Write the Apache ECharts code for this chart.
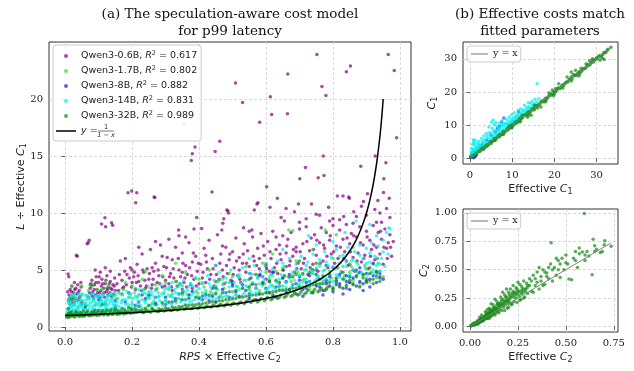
<!DOCTYPE html>
<html><head><meta charset="utf-8">
<script src="https://cdn.jsdelivr.net/npm/echarts@6/dist/echarts.min.js"></script>
<style>html,body{margin:0;padding:0;background:#fff}#c{width:634px;height:371px}</style>
</head><body><div id="c"></div>
<script>
const models = ['Qwen3-0.6B','Qwen3-1.7B','Qwen3-8B','Qwen3-14B','Qwen3-32B'];
const r2Values = ['0.617','0.802','0.882','0.831','0.989'];
const modelColors = ['#800080','#22e622','#2020ee','#00f0f0','#138a13'];

const xTicksA = [0,0.2,0.4,0.6,0.8,1.0];
const yTicksA = [0,5,10,15,20];
const ticksB1 = [0,10,20,30];
const ticksB2x = [0,0.25,0.5,0.75];
const ticksB2y = [0,0.25,0.5,0.75,1.0];

// curve y = 1/(1-x), values typed
const curveX = [0,0.1,0.2,0.3,0.4,0.5,0.55,0.6,0.65,0.7,0.75,0.77,0.8,0.83,0.85,0.86,0.87,0.88,0.89,0.9,0.91,0.92,0.93,0.94,0.945,0.95];
const curveY = [1,1.111,1.25,1.429,1.667,2,2.222,2.5,2.857,3.333,4,4.348,5,5.882,6.667,7.143,7.692,8.333,9.091,10,11.111,12.5,14.286,16.667,18.182,20];

// Panel (a) points
const a06B = [[0.01,2.3],[0.012,2.8],[0.015,3.3],[0.018,2.6],[0.02,3.6],[0.022,2.2],[0.025,3.0],[0.028,3.9],[0.03,2.5],[0.032,3.4],[0.035,2.9],[0.038,3.7],[0.04,2.4],[0.042,3.2],[0.045,2.7],[0.048,3.5],[0.05,2.2],[0.008,3.1],[0.015,2.0],[0.027,2.1],[0.009,4.65],[0.011,4.4],[0.034,6.3],[0.036,6.2],[0.069,7.4],[0.072,7.6],[0.066,7.3],
[0.07,2.6],[0.075,3.4],[0.078,2.9],[0.08,4.1],[0.083,3.1],[0.085,2.5],[0.088,3.7],[0.09,2.8],[0.093,4.4],[0.095,3.3],[0.098,2.7],[0.1,3.9],[0.103,3.0],[0.105,2.6],[0.108,3.6],[0.11,4.2],[0.113,2.9],[0.115,3.4],[0.118,2.6],[0.12,3.8],[0.123,3.1],[0.125,4.5],[0.128,2.8],[0.13,3.5],[0.133,3.0],[0.135,4.0],[0.138,2.7],[0.14,3.3],[0.143,3.7],[0.145,2.9],[0.148,4.3],[0.15,3.2],[0.09,5.0],[0.105,4.8],[0.12,5.2],[0.135,4.9],
[0.109,9.03],[0.119,9.59],[0.121,8.8],[0.139,9.15],[0.142,8.92],[0.188,11.78],[0.199,11.93],[0.214,11.78],[0.211,10.9],[0.266,11.4],[0.268,11.35],
[0.16,3.2],[0.165,5.8],[0.17,4.1],[0.175,3.5],[0.18,6.0],[0.185,4.6],[0.19,3.0],[0.195,5.2],[0.2,3.9],[0.205,4.4],[0.21,3.3],[0.215,5.5],[0.22,4.0],[0.225,3.6],[0.23,6.4],[0.235,4.8],[0.24,3.4],[0.245,5.1],[0.25,4.2],[0.255,6.8],[0.26,3.7],[0.265,4.9],[0.27,5.6],[0.275,3.9],[0.28,4.5],[0.285,7.2],[0.29,3.5],[0.295,5.3],[0.3,4.1],[0.305,6.1],[0.31,3.8],[0.315,4.7],[0.32,5.9],[0.325,4.3],[0.33,7.0],[0.335,3.6],[0.34,5.0],[0.345,4.4],[0.35,6.5],[0.355,3.9],[0.36,5.4],[0.365,4.6],[0.37,7.4],[0.375,3.7],[0.38,5.7],[0.385,4.2],[0.39,6.2],[0.395,4.9],[0.4,3.8],
[0.17,2.9],[0.2,5.0],[0.23,2.8],[0.26,5.2],[0.29,6.2],[0.32,3.2],[0.35,4.8],[0.38,3.4],[0.22,7.0],[0.27,7.5],[0.31,7.7],[0.34,8.0],[0.36,7.9],[0.385,8.6],[0.408,8.65],[0.339,8.5],
[0.405,5.5],[0.41,4.3],[0.415,6.9],[0.42,3.9],[0.425,5.1],[0.43,7.6],[0.435,4.6],[0.44,6.0],[0.445,3.6],[0.45,5.4],[0.455,8.1],[0.46,4.2],[0.465,6.4],[0.47,5.0],[0.475,3.8],[0.48,7.0],[0.485,4.7],[0.49,5.9],[0.495,4.1],[0.5,6.6],[0.505,5.2],[0.51,7.8],[0.515,4.5],[0.52,6.1],[0.525,3.9],[0.53,5.6],[0.535,7.3],[0.54,4.8],[0.545,6.7],[0.55,5.3],[0.555,4.3],[0.56,7.9],[0.565,5.8],[0.57,4.6],[0.575,6.9],[0.58,5.1],[0.585,8.2],[0.59,4.4],[0.595,6.3],[0.6,5.5],[0.605,7.5],[0.61,4.9],[0.615,6.0],[0.62,8.4],[0.625,5.2],[0.63,6.8],[0.635,4.7],[0.64,7.2],[0.645,5.9],[0.65,8.0],[0.655,4.5],[0.66,6.5],[0.665,7.7],[0.67,5.4],[0.675,8.3],[0.68,6.2],[0.685,4.8],[0.69,7.0],[0.695,5.6],[0.7,8.6],
[0.42,6.3],[0.47,7.1],[0.52,5.0],[0.55,8.4],[0.58,6.0],[0.63,7.9],[0.66,5.3],[0.69,6.6],[0.45,4.0],[0.5,3.8],[0.6,4.2],[0.64,3.9],[0.68,4.4],
[0.705,5.1],[0.71,7.3],[0.715,6.0],[0.72,8.8],[0.725,4.6],[0.73,6.7],[0.735,7.8],[0.74,5.5],[0.745,8.1],[0.75,6.3],[0.755,4.9],[0.76,7.4],[0.765,8.7],[0.77,5.8],[0.775,6.9],[0.78,8.3],[0.785,5.2],[0.79,7.6],[0.795,6.4],[0.8,8.9],[0.805,5.6],[0.81,7.1],[0.815,6.0],[0.82,8.5],[0.825,4.8],[0.83,7.7],[0.835,6.6],[0.84,9.0],[0.845,5.4],[0.85,7.3],[0.855,8.2],[0.86,6.1],[0.865,4.9],[0.87,7.9],[0.875,6.5],[0.88,8.8],[0.885,5.7],[0.89,7.2],[0.895,6.3],[0.9,8.4],[0.905,5.1],[0.91,7.6],[0.915,6.8],[0.92,8.9],[0.925,5.9],[0.93,7.0],[0.935,8.3],[0.94,6.4],[0.945,7.7],[0.95,5.5],[0.955,8.6],[0.96,6.9],[0.965,7.4],[0.97,8.1],[0.975,6.2],[0.98,7.5],
[0.72,9.5],[0.76,9.8],[0.82,9.4],[0.87,9.7],[0.93,9.2],[0.97,9.6],
[0.393,9.6],[0.439,11.84],[0.448,15.4],[0.462,16.3],[0.468,8.5],[0.471,9.1],[0.474,9.5],[0.483,10.26],[0.486,10.2],[0.488,10.0],[0.509,21.4],[0.53,19.7],[0.533,8.7],[0.558,8.5],[0.565,10.26],[0.573,10.8],[0.576,10.9],[0.581,17.95],[0.602,12.3],[0.613,20.2],[0.617,18.65],[0.612,10.5],[0.634,11.3],[0.66,10.4],[0.664,18.7],[0.685,10.1],[0.697,10.8],[0.701,13.0],[0.718,14.0],[0.736,10.8],[0.756,13.1],[0.767,21.1],[0.773,13.3],[0.771,15.0],[0.779,20.3],[0.787,10.5],[0.8,9.5],[0.813,11.5],[0.83,11.5],[0.832,9.7],[0.847,11.4],[0.849,11.3],[0.862,10.1],[0.883,14.1],[0.891,11.0],[0.903,11.7],[0.926,15.0],[0.934,11.1],[0.952,13.0],[0.951,11.8],[0.958,14.4],[0.968,11.3],[0.96,10.4],[0.99,16.6],[0.355,17.8],[0.377,14.6],[0.38,15.2],[0.388,15.8],
[0.665,22.2],[0.752,23.9],[0.852,22.9],[0.84,22.4],[0.965,23.9],[0.983,22.5],
[0.645,9.6],[0.655,9.3],[0.7,9.2],[0.75,9.9],[0.79,9.3],[0.86,9.1],[0.9,9.8],[0.94,10.0],[0.885,10.6],[0.925,10.3],[0.945,9.2]];
const a06Bmore = [[0.155,3.8],[0.162,4.6],[0.172,3.4],[0.178,4.9],[0.183,3.7],[0.192,4.3],[0.198,3.5],[0.207,4.8],[0.213,3.9],[0.218,4.5],[0.228,3.2],[0.232,5.0],[0.238,4.1],[0.243,3.6],[0.252,4.7],[0.258,3.4],[0.263,4.2],[0.272,3.3],[0.278,5.0],[0.283,3.8],[0.292,4.4],[0.298,3.6],[0.303,5.2],[0.312,4.4],[0.318,3.5],[0.323,5.1],[0.332,4.0],[0.338,6.0],[0.343,3.8],[0.352,5.6],[0.358,4.3],[0.363,3.5],[0.372,5.2],[0.378,4.5],[0.383,6.5],[0.392,3.6],[0.398,5.6],[0.412,4.8],[0.422,5.7],[0.432,4.2],[0.442,5.1],[0.452,4.6],[0.462,5.6],[0.472,4.4],[0.482,5.4],[0.492,6.4],[0.502,4.6],[0.512,5.8],[0.522,4.2],[0.532,6.4],[0.542,5.6],[0.552,4.7],[0.562,6.2],[0.572,5.4],[0.582,4.6],[0.592,7.1],[0.602,5.1],[0.612,6.6],[0.622,4.8],[0.632,5.6],[0.642,6.4],[0.652,5.0],[0.662,7.1],[0.672,5.8],[0.682,6.8],[0.692,5.1],[0.702,6.6],[0.712,5.6],[0.722,7.5],[0.732,5.2],[0.742,6.8],[0.752,7.6],[0.762,5.6],[0.772,7.2],[0.782,6.2],[0.792,8.0],[0.802,6.6],[0.812,5.2],[0.822,7.0],[0.832,6.0],[0.842,7.8],[0.852,6.6],[0.862,8.0],[0.872,5.8],[0.882,7.4],[0.892,6.0],[0.902,7.9],[0.912,6.2],[0.922,7.2],[0.932,6.0],[0.942,8.4],[0.952,7.0],[0.962,6.0],[0.972,7.0],
[0.013,2.5],[0.019,3.1],[0.023,2.6],[0.029,3.3],[0.033,2.3],[0.039,3.0],[0.043,2.6],[0.047,3.9],[0.073,3.0],[0.077,3.8],[0.082,2.7],[0.087,3.3],[0.092,3.9],[0.097,3.0],[0.102,4.4],[0.107,3.2],[0.112,3.8],[0.117,3.0],[0.122,4.1],[0.127,3.3],[0.132,3.8],[0.137,3.4],[0.147,3.6]];

const a17B = [[0.01,1.6],[0.015,2.2],[0.02,3.5],[0.025,1.9],[0.03,2.6],[0.04,1.8],[0.05,2.9],[0.06,2.1],[0.07,3.2],[0.08,3.8],[0.085,2.4],[0.09,1.9],[0.1,2.7],[0.11,3.3],[0.12,2.2],[0.13,3.6],[0.14,2.5],[0.15,1.9],[0.16,3.0],[0.17,2.3],[0.18,3.9],[0.19,2.6],[0.2,2.0],[0.21,3.4],[0.22,2.8],[0.23,4.2],[0.24,2.4],[0.25,3.1],[0.26,2.1],[0.27,3.7],[0.28,2.7],[0.29,4.5],[0.3,2.3],[0.31,3.3],[0.32,2.9],[0.33,4.0],[0.34,2.5],[0.35,3.6],[0.36,4.8],[0.37,2.8],[0.38,3.2],[0.39,4.3],[0.4,2.6],[0.41,3.8],[0.42,3.0],[0.43,5.0],[0.44,2.8],[0.45,3.5],[0.46,4.1],[0.47,2.6],[0.48,3.9],[0.49,4.7],[0.5,3.1],[0.51,2.8],[0.52,4.4],[0.53,3.4],[0.54,5.3],[0.55,2.9],[0.56,3.8],[0.57,4.6],[0.58,3.2],[0.59,5.6],[0.6,3.0],[0.61,4.2],[0.62,3.6],[0.63,4.9],[0.64,3.3],[0.65,5.2],[0.66,3.9],[0.67,3.1],[0.68,4.5],[0.69,5.8],[0.7,3.5],[0.71,4.1],[0.72,5.0],[0.73,3.3],[0.74,4.7],[0.75,3.8],[0.76,5.5],[0.77,4.0],[0.78,3.4],[0.79,4.9],[0.8,6.0],[0.81,3.9],[0.82,4.4],[0.83,5.3],[0.84,3.7],[0.85,4.8],[0.86,4.1],[0.87,5.7],[0.88,3.6],[0.89,4.6],[0.9,5.1],[0.91,4.0],[0.92,5.5],[0.93,4.3],[0.94,4.9],[0.95,4.4],
[0.668,8.5],[0.68,8.45],[0.777,8.5],[0.81,8.1],[0.33,5.6],[0.24,4.9],[0.62,6.4],[0.74,6.8],[0.86,7.0],[0.12,4.0],[0.02,2.8],[0.05,3.6],
[0.15,2.8],[0.25,2.6],[0.35,2.9],[0.45,3.0],[0.55,3.3],[0.65,3.6],[0.75,4.2],[0.85,3.9],[0.2,3.6],[0.3,3.9],[0.4,4.2],[0.5,4.4],[0.6,4.8],[0.7,4.5],[0.8,3.5],[0.9,4.3]];
const a17Bmore = [[0.025,2.8],[0.045,2.3],[0.065,2.7],[0.095,3.3],[0.105,2.3],[0.135,3.0],[0.155,2.5],[0.175,3.3],[0.195,2.9],[0.215,2.6],[0.235,3.3],[0.255,2.8],[0.275,3.4],[0.295,3.0],[0.315,2.7],[0.335,3.5],[0.355,3.1],[0.375,3.8],[0.395,3.0],[0.415,3.5],[0.435,3.1],[0.455,4.0],[0.475,3.4],[0.495,3.9],[0.515,3.5],[0.535,4.1],[0.555,3.7],[0.575,4.3],[0.595,3.8],[0.615,4.6],[0.635,3.9],[0.655,4.5],[0.675,4.0],[0.695,4.8],[0.715,4.2],[0.735,5.1],[0.755,4.4],[0.775,5.0],[0.795,4.3],[0.815,5.2],[0.835,4.5],[0.855,5.3],[0.875,4.7],[0.895,5.4],[0.915,4.8],[0.935,5.6]];

const a8B = [[0.03,1.4],[0.06,1.7],[0.09,1.5],[0.12,2.0],[0.15,1.7],[0.18,2.2],[0.21,1.9],[0.24,2.5],[0.27,2.1],[0.3,2.6],[0.32,2.2],[0.34,2.9],[0.36,2.4],[0.38,3.1],[0.4,2.5],[0.42,2.8],[0.44,3.4],[0.46,2.6],[0.48,3.0],[0.5,3.6],[0.52,2.7],[0.54,3.2],[0.56,3.8],[0.58,2.9],[0.6,3.4],[0.61,4.0],[0.62,2.8],[0.64,3.6],[0.65,4.3],[0.66,3.1],[0.68,3.7],[0.69,2.9],[0.7,4.1],[0.71,3.3],[0.72,3.9],[0.73,4.5],[0.74,3.0],[0.75,3.6],[0.76,4.2],[0.77,3.2],[0.78,3.8],[0.79,4.4],[0.8,3.1],[0.81,3.7],[0.82,4.6],[0.83,3.4],[0.84,4.0],[0.85,3.3],[0.86,4.3],[0.87,3.6],[0.88,4.8],[0.89,3.8],[0.9,4.1],[0.91,3.5],[0.92,4.5],[0.93,3.9],[0.94,4.7],[0.95,4.2],
[0.45,2.2],[0.55,2.5],[0.63,2.6],[0.67,4.6],[0.71,2.7],[0.74,5.0],[0.77,2.8],[0.8,5.2],[0.83,2.9],[0.86,5.0],[0.89,3.2],[0.92,5.6],[0.35,3.3],[0.25,2.8],[0.5,4.0],[0.58,4.5],[0.62,4.8],[0.78,5.4],[0.84,5.8],[0.88,5.2],[0.2,1.6],[0.1,2.4],[0.43,2.3],[0.57,2.4]];
const a8Bmore = [[0.3,2.0],[0.33,2.5],[0.37,2.8],[0.41,2.4],[0.44,2.7],[0.47,3.3],[0.49,2.6],[0.51,3.1],[0.53,3.7],[0.55,2.9],[0.57,3.4],[0.59,3.9],[0.61,3.0],[0.63,3.5],[0.66,4.0],[0.67,3.3],[0.69,3.8],[0.7,4.4],[0.72,3.4],[0.73,4.0],[0.75,4.6],[0.76,3.5],[0.78,4.1],[0.79,3.6],[0.81,4.3],[0.82,3.8],[0.84,4.5],[0.85,3.9],[0.87,4.4],[0.88,4.0],[0.9,4.7],[0.91,4.2],[0.93,4.8],[0.94,4.3],[0.15,2.3],[0.22,2.2],[0.27,2.6],[0.05,2.0]];

const a14B = [[0.005,1.1],[0.008,1.6],[0.01,2.1],[0.012,1.3],[0.015,2.6],[0.018,1.8],[0.02,1.2],[0.022,2.3],[0.025,1.5],[0.028,2.9],[0.03,1.9],[0.032,1.1],[0.035,2.4],[0.038,1.6],[0.04,2.1],[0.042,1.3],[0.045,2.7],[0.048,1.8],[0.05,1.2],[0.053,2.3],[0.056,1.5],[0.06,2.0],[0.063,2.8],[0.066,1.4],[0.07,1.9],[0.073,2.5],[0.076,1.3],[0.08,2.2],[0.083,1.6],[0.086,2.9],[0.09,1.4],[0.093,2.0],[0.096,2.6],[0.1,1.5],[0.103,2.2],[0.106,1.8],[0.11,2.7],[0.113,1.4],[0.116,2.1],[0.12,1.7],[0.123,2.5],[0.126,1.5],[0.13,2.0],[0.133,2.8],[0.136,1.6],[0.14,2.3],[0.143,1.9],[0.146,2.6],[0.15,1.6],[0.155,2.2],[0.16,1.8],[0.165,2.9],[0.17,1.7],[0.175,2.4],[0.18,2.0],[0.185,3.1],[0.19,1.8],[0.195,2.6],[0.2,2.2],[0.02,1.7],[0.04,1.5],[0.06,1.7],[0.08,1.8],[0.1,1.9],[0.12,2.0],[0.14,1.6],[0.03,2.2],[0.07,2.4],[0.11,2.3],[0.05,2.0],[0.09,2.2],[0.13,2.4],
[0.205,1.7],[0.21,2.7],[0.215,2.0],[0.22,3.3],[0.225,1.9],[0.23,2.4],[0.235,3.0],[0.24,2.1],[0.245,2.6],[0.25,3.5],[0.255,1.9],[0.26,2.8],[0.265,2.3],[0.27,3.2],[0.275,2.0],[0.28,2.6],[0.285,3.7],[0.29,2.2],[0.295,2.9],[0.3,2.4],[0.305,3.4],[0.31,2.1],[0.315,2.7],[0.32,3.9],[0.325,2.3],[0.33,3.0],[0.335,2.5],[0.34,3.6],[0.345,2.2],[0.35,2.8],[0.355,4.1],[0.36,2.4],[0.365,3.2],[0.37,2.6],[0.375,3.8],[0.38,2.3],[0.385,3.0],[0.39,4.3],[0.395,2.7],[0.4,3.4],[0.405,2.4],[0.41,3.9],[0.415,2.8],[0.42,3.2],[0.425,4.5],[0.43,2.6],[0.435,3.5],[0.44,2.9],[0.445,4.1],[0.45,2.5],[0.455,3.3],[0.46,4.8],[0.465,2.8],[0.47,3.7],[0.475,3.0],[0.48,4.3],[0.485,2.7],[0.49,3.5],[0.495,5.0],[0.5,3.1],[0.505,3.9],[0.51,2.8],[0.515,4.5],[0.52,3.3],[0.525,3.8],[0.53,5.2],[0.535,3.0],[0.54,4.1],[0.545,3.5],[0.55,4.7],[0.555,3.1],[0.56,3.9],[0.565,5.4],[0.57,3.4],[0.575,4.3],[0.58,3.0],[0.585,4.9],[0.59,3.6],[0.595,4.1],[0.6,5.6],
[0.605,3.2],[0.61,4.4],[0.615,3.7],[0.62,5.1],[0.625,3.4],[0.63,4.0],[0.635,5.8],[0.64,3.6],[0.645,4.6],[0.65,3.3],[0.655,5.3],[0.66,3.9],[0.665,4.4],[0.67,6.0],[0.675,3.5],[0.68,4.8],[0.685,4.1],[0.69,5.5],[0.695,3.7],[0.7,4.5],[0.705,6.2],[0.71,3.9],[0.715,5.0],[0.72,4.2],[0.725,5.7],[0.73,3.6],[0.735,4.7],[0.74,6.4],[0.745,4.0],[0.75,5.2],[0.755,4.5],[0.76,5.9],[0.765,3.8],[0.77,4.9],[0.775,6.6],[0.78,4.3],[0.785,5.4],[0.79,4.6],[0.795,6.1],[0.8,4.0],[0.805,5.1],[0.81,6.8],[0.815,4.4],[0.82,5.6],[0.825,4.8],[0.83,6.3],[0.835,4.2],[0.84,5.3],[0.845,7.0],[0.85,4.6],[0.855,5.8],[0.86,5.0],[0.865,6.6],[0.87,4.4],[0.875,5.5],[0.88,7.2],[0.885,4.8],[0.89,6.0],[0.895,5.2],[0.9,6.9],[0.905,4.6],[0.91,5.7],[0.915,7.4],[0.92,5.0],[0.925,6.2],[0.93,5.4],[0.935,7.1],[0.94,4.9],[0.945,6.0],[0.95,7.6],[0.955,5.3],[0.96,8.3],[0.965,6.4],
[0.869,9.3],[0.91,9.0],[0.967,8.7],[0.97,8.6],[0.836,8.3],[0.727,8.0],[0.8,7.5],[0.75,7.2],[0.93,8.0],[0.65,6.8],[0.55,6.0],[0.45,5.4]];
const a14Bmore = [[0.006,1.4],[0.009,2.4],[0.013,1.7],[0.017,2.0],[0.021,2.7],[0.024,1.4],[0.027,2.0],[0.031,2.6],[0.034,1.7],[0.037,1.2],[0.041,2.9],[0.044,1.9],[0.047,2.4],[0.051,1.6],[0.054,2.8],[0.058,1.2],[0.062,2.4],[0.065,1.9],[0.068,2.7],[0.072,1.6],[0.075,2.1],[0.078,2.9],[0.082,1.3],[0.085,2.5],[0.088,1.9],[0.092,2.7],[0.095,1.3],[0.098,2.1],[0.102,2.8],[0.105,1.5],[0.108,2.4],[0.112,1.9],[0.115,2.9],[0.118,1.5],[0.122,2.3],[0.125,1.8],[0.128,2.7],[0.132,1.5],[0.135,2.2],[0.138,2.9],[0.142,1.6],[0.145,2.1],[0.148,3.0],[0.152,1.9],[0.158,2.5],[0.162,1.5],[0.168,2.1],[0.172,2.8],[0.178,1.6],[0.182,2.4],[0.188,2.0],[0.192,2.9],[0.198,1.7],
[0.203,2.5],[0.208,3.0],[0.212,1.6],[0.218,2.3],[0.222,2.8],[0.228,1.7],[0.232,3.2],[0.238,2.3],[0.242,2.9],[0.248,1.8],[0.252,2.5],[0.258,3.1],[0.262,2.0],[0.268,2.6],[0.272,1.9],[0.278,3.0],[0.282,2.3],[0.288,2.9],[0.292,1.9],[0.298,3.3],[0.302,2.1],[0.308,2.8],[0.312,3.5],[0.318,2.0],[0.322,2.6],[0.328,3.3],[0.332,2.1],[0.338,2.9],[0.342,3.8],[0.348,2.4],[0.352,3.2],[0.358,2.0],[0.362,2.9],[0.368,3.5],[0.372,2.2],[0.378,2.8],[0.382,3.6],[0.388,2.4],[0.392,3.2],[0.398,2.1],[0.41,3.0],[0.42,2.5],[0.43,3.8],[0.44,2.4],[0.45,3.6],[0.46,2.6],[0.47,4.2],[0.48,2.7],[0.49,3.9],[0.5,2.6],[0.51,3.6],[0.52,4.6],[0.53,2.8],[0.54,3.6],[0.55,2.8],[0.56,4.6],[0.57,3.0],[0.58,3.8],[0.59,4.4],[0.6,3.3],
[0.61,3.5],[0.62,4.5],[0.63,3.2],[0.64,4.2],[0.65,5.6],[0.66,3.5],[0.67,4.3],[0.68,3.7],[0.69,5.0],[0.7,3.8],[0.71,4.6],[0.72,5.4],[0.73,4.0],[0.74,4.9],[0.75,3.9],[0.76,5.3],[0.77,4.2],[0.78,5.7],[0.79,4.1],[0.8,5.3],[0.81,4.6],[0.82,6.2],[0.83,4.3],[0.84,5.7],[0.85,4.4],[0.86,5.9],[0.87,4.9],[0.88,6.3],[0.89,4.5],[0.9,5.6],[0.91,6.5],[0.92,4.7],[0.93,6.0],[0.94,5.5],[0.95,6.6]];

const a32B = [[0.005,0.85],[0.008,1.0],[0.01,1.2],[0.012,0.9],[0.015,1.1],[0.018,1.35],[0.02,0.95],[0.025,1.15],[0.03,0.9],[0.035,1.3],[0.04,1.0],[0.045,1.2],[0.05,0.95],[0.055,1.4],[0.06,1.05],[0.065,1.25],[0.07,0.98],[0.075,1.15],[0.08,1.35],[0.085,1.05],[0.09,1.2],[0.095,1.0],[0.1,1.45],[0.105,1.1],[0.11,1.3],[0.115,1.05],[0.12,1.2],[0.125,1.5],[0.13,1.1],[0.135,1.35],[0.14,1.15],[0.145,1.25],[0.15,1.55],[0.155,1.1],[0.16,1.3],[0.165,1.2],[0.17,1.6],[0.175,1.15],[0.18,1.35],[0.185,1.25],[0.19,1.7],[0.195,1.2],[0.2,1.4],
[0.02,2.4],[0.08,3.6],[0.075,3.7],[0.125,3.4],[0.01,1.6],[0.06,1.8],[0.11,2.0],
[0.205,1.25],[0.21,1.55],[0.215,1.3],[0.22,1.8],[0.225,1.35],[0.23,1.5],[0.235,1.25],[0.24,1.65],[0.245,1.4],[0.25,1.9],[0.255,1.3],[0.26,1.55],[0.265,1.45],[0.27,2.0],[0.275,1.35],[0.28,1.6],[0.285,1.5],[0.29,2.1],[0.295,1.4],[0.3,1.7],[0.305,1.55],[0.31,2.2],[0.315,1.45],[0.32,1.75],[0.325,1.6],[0.33,2.3],[0.335,1.5],[0.34,1.8],[0.345,1.65],[0.35,2.4],[0.355,1.55],[0.36,1.9],[0.365,1.7],[0.37,2.5],[0.375,1.6],[0.38,1.95],[0.385,1.75],[0.39,2.6],[0.395,1.65],[0.4,2.0],[0.405,1.8],[0.41,2.7],[0.415,1.7],[0.42,2.1],[0.425,1.85],[0.43,2.8],[0.435,1.75],[0.44,2.2],[0.445,1.9],[0.45,2.9],[0.455,1.8],[0.46,2.3],[0.465,2.0],[0.47,3.0],[0.475,1.85],[0.48,2.4],[0.485,2.05],[0.49,3.1],[0.495,1.9],[0.5,2.45],
[0.505,2.1],[0.51,3.2],[0.515,2.0],[0.52,2.6],[0.525,2.2],[0.53,3.4],[0.535,2.05],[0.54,2.7],[0.545,2.3],[0.55,3.5],[0.555,2.15],[0.56,2.8],[0.565,2.4],[0.57,3.7],[0.575,2.2],[0.58,2.9],[0.585,2.5],[0.59,3.8],[0.595,2.3],[0.6,3.0],[0.605,2.6],[0.61,4.0],[0.615,2.4],[0.62,3.1],[0.625,2.7],[0.63,4.1],[0.635,2.5],[0.64,3.2],[0.645,2.8],[0.65,4.3],[0.655,2.6],[0.66,3.3],[0.665,2.9],[0.67,4.4],[0.675,2.7],[0.68,3.4],[0.685,3.0],[0.69,4.6],[0.695,2.8],[0.7,3.5],[0.705,3.1],[0.71,4.7],[0.715,2.9],[0.72,3.6],[0.725,3.2],[0.73,4.8],[0.735,3.0],[0.74,3.7],[0.745,3.3],[0.75,5.0],[0.755,3.1],[0.76,3.8],[0.765,3.4],[0.77,4.5],[0.775,3.2],[0.78,3.9],[0.785,3.5],[0.79,4.6],[0.8,3.3],[0.81,4.0],[0.82,3.6],[0.83,4.8],[0.84,3.4],[0.85,4.1],[0.86,3.7],[0.87,5.0],[0.88,3.5],[0.89,4.3],[0.9,3.9],[0.91,5.2],[0.92,3.8],[0.93,4.5],[0.94,4.0],
[0.35,3.0],[0.45,3.4],[0.55,4.2],[0.65,5.0],[0.75,5.6],[0.85,5.5],[0.6,5.3],[0.7,5.8]];
const a32Bmore = [[0.007,1.1],[0.011,0.85],[0.016,1.25],[0.022,1.05],[0.027,0.9],[0.032,1.2],[0.037,1.05],[0.042,0.92],[0.047,1.3],[0.052,1.1],[0.057,0.95],[0.062,1.2],[0.067,1.4],[0.072,1.1],[0.077,0.98],[0.082,1.25],[0.087,1.4],[0.092,1.1],[0.097,1.3],[0.102,1.05],[0.107,1.25],[0.112,1.45],[0.117,1.15],[0.122,1.35],[0.127,1.05],[0.132,1.25],[0.137,1.5],[0.142,1.1],[0.147,1.4],[0.152,1.25],[0.157,1.45],[0.162,1.15],[0.167,1.35],[0.172,1.25],[0.177,1.5],[0.182,1.2],[0.187,1.4],[0.192,1.3],[0.197,1.55],[0.21,1.35],[0.22,1.45],[0.23,1.3],[0.24,1.5],[0.25,1.4],[0.26,1.65],[0.27,1.45],[0.28,1.35],[0.29,1.55],[0.3,1.45],
[0.31,1.6],[0.32,1.45],[0.33,1.7],[0.34,1.55],[0.35,1.8],[0.36,1.6],[0.37,1.9],[0.38,1.65],[0.39,1.95],[0.4,1.7],[0.41,2.05],[0.42,1.75],[0.43,2.15],[0.44,1.85],[0.45,2.2],[0.46,1.9],[0.47,2.3],[0.48,1.95],[0.49,2.4],[0.5,2.05],[0.51,2.5],[0.52,2.1],[0.53,2.6],[0.54,2.2],[0.55,2.7],[0.56,2.3],[0.57,2.8],[0.58,2.35],[0.59,2.9],[0.6,2.45],[0.61,3.0],[0.62,2.5],[0.63,3.1],[0.64,2.6],[0.65,3.2],[0.66,2.7],[0.67,3.3],[0.68,2.8],[0.69,3.4],[0.7,2.9],[0.71,3.5],[0.72,3.0],[0.73,3.6],[0.74,3.1],[0.75,3.7],[0.76,3.2],[0.77,3.8],[0.78,3.3],[0.79,3.9],[0.8,3.4],[0.81,4.1],[0.82,3.5],[0.83,4.2],[0.84,3.6],[0.85,4.4],[0.86,3.8],[0.87,4.5],[0.88,3.9],[0.89,4.6],[0.9,4.0],[0.91,4.7],[0.92,4.2],[0.93,4.9],[0.94,4.4]];

// Panel (b) top: Effective C1 vs fitted C1
const b1_06B = [[0.2,0.3],[0.4,0.8],[0.5,1.5],[0.3,1.0],[0.6,0.5],[0.8,1.8],[0.2,0.6]];
const b1_17B = [[0.5,0.7],[0.9,1.5],[1.2,1.7],[1.5,2.5],[0.7,1.2],[2.0,3.5],[2.5,4.0]];
const b1_8B = [[0.5,0.4],[1.0,0.6],[1.5,1.0],[2.0,2.6],[3,4.2],[4,5.5],[5,7],[6,8],[7,9.6],[8,12.2],[7.5,11],[6.5,9],[1,1.8],[2.5,3],[0.8,0.2],[1.2,0.5],[11.5,14.0],[10.1,11.0]];
const b1_14B = [[0.3,0.8],[0.6,1.9],[0.9,2.8],[1.2,3.9],[1.5,3.0],[1.8,4.6],[2.1,5.2],[2.4,3.8],[2.7,6.0],[3.0,4.5],[3.3,6.8],[3.6,5.2],[3.9,7.5],[4.2,6.0],[4.5,9.5],[4.8,7.2],[5.1,11.0],[5.4,8.0],[5.7,10.2],[6.0,7.5],[6.3,9.8],[6.6,8.6],[6.9,10.6],[7.2,9.2],[7.5,11.3],[7.8,9.8],[8.1,12.0],[8.4,10.5],[8.7,11.8],[9.0,10.2],[9.3,12.5],[9.6,11.0],[9.9,13.2],[10.2,11.6],[10.5,13.8],[10.8,12.2],[11.1,13.0],[11.4,14.5],[11.7,12.8],[12.0,15.0],[12.3,13.4],[12.6,14.6],[12.9,16.0],[13.2,14.0],[13.5,15.4],[13.8,16.8],[14.1,15.0],[14.3,16.6],[14.7,17.2],[15.0,16.2],[15.4,17.8],[15.9,22.6],[16.3,18.0],[2.0,2.6],[3.5,4.0],[5.0,5.6],[6.5,7.1],[8.0,8.6],[1.0,1.5],[4.0,4.8],[7.0,7.8],[10.0,10.8],[2.8,3.4],[1.5,2.0],[5.5,6.4],[9.0,9.9],[11.5,12.3],[0.8,5.6],[1.0,4.6],[5.5,11.6],[6.1,10.8],
[0.5,1.2],[0.7,2.4],[1.1,2.2],[1.3,3.2],[1.6,2.4],[1.9,3.6],[2.2,4.2],[2.5,3.0],[2.9,5.0],[3.2,3.8],[3.4,5.6],[3.8,4.5],[4.1,6.6],[4.4,5.1],[4.6,7.8],[5.0,6.3],[5.3,9.0],[5.6,6.8],[5.9,8.5],[6.2,7.0],[6.5,8.2],[6.8,9.2],[7.1,8.4],[7.4,10.0],[7.7,8.6],[8.0,10.3],[8.3,9.3],[8.6,10.6],[8.9,9.6],[9.2,11.2],[9.5,10.4],[9.8,11.8],[10.1,10.9],[10.4,12.4],[10.7,11.4],[11.0,12.6],[11.3,11.9],[11.6,13.6],[11.9,12.5],[12.2,14.0],[12.5,13.0],[12.8,14.4],[13.1,13.6],[13.4,14.9],[13.7,14.3],[14.0,15.6],[14.4,15.1],[14.9,16.0],[15.3,16.5],[15.8,17.0],[0.4,3.0],[0.6,4.2],[0.9,5.0],[1.2,5.5],[0.3,2.0]];
const b1_32B = [[2,2.1],[2.5,2.3],[3,3.2],[3.5,3.3],[4,4.1],[4.5,4.3],[5,5.2],[5.5,5.3],[6,6.1],[6.5,6.4],[7,7.2],[7.5,7.3],[8,8.1],[8.5,8.3],[9,9.2],[9.5,9.4],[10,10.1],[10.5,10.3],[11,11.2],[11.5,11.4],[12,12.1],[12.5,12.3],[13,13.2],[13.5,13.4],[14,14.1],[14.5,14.3],[15,15.2],[15.5,15.4],[16,16.1],[16.5,16.3],[17,17.3],[17.5,17.4],[18,18.2],[18.5,18.4],[19,19.3],[19.5,19.4],[20,20.2],[20.5,20.4],[21,21.3],[21.5,21.3],[22,22.2],[22.5,22.6],[23,23.1],[23.5,23.8],[24,24.6],[24.5,25.3],[25,25.1],[25.5,25.6],[26,26.2],[26.5,26.3],[27,27.2],[27.5,27.4],[28,28.3],[28.5,28.4],[29,29.6],[29.5,29.5],[30,30.3],[30.5,30.8],[31,30.6],[31.5,31.4],[32,31.9],[32.5,32.6],[33.4,33.5],
[4,3.6],[6,5.5],[8,7.4],[10,9.4],[12,11.3],[14,13.4],[16,15.2],[18,17.3],[20,19.4],[22,21.2],[24,23.3],[26,25.4],[13.6,12.4],[14.5,13.0],[16.8,15.5],[15.2,14.6],[31.4,30.2],[31.8,29.8],[29,30.0],[27.5,28.5],[24,26.0],[23,24.5],[25,26.6],[18.7,19.8],[21,22.5],[19.5,20.6],
[1,0.8],[1.5,1.3],[0.5,0.4],[3,2.6],[5,4.5],[7,6.5],[9,8.6],[11,10.6],
[0.5,0.6],[1.0,1.1],[1.5,1.6],[2.2,2.0],[2.7,2.9],[3.2,3.0],[3.7,3.8],[4.2,4.0],[4.7,4.9],[5.2,5.0],[5.7,5.9],[6.2,6.0],[6.7,6.9],[7.2,7.0],[7.7,7.9],[8.2,8.0],[8.7,8.9],[9.2,9.0],[9.7,9.9],[10.2,10.0],[10.7,10.9],[11.2,11.0],[11.7,11.9],[12.2,12.0],[12.7,12.9],[13.2,13.0],[13.7,13.9],[14.2,14.0],[14.7,14.9],[15.2,15.0],[15.7,15.9],[16.2,16.0],[16.7,16.9],[17.2,17.0],[17.7,17.9],[18.2,18.0],[18.7,18.9],[19.2,19.0],[19.7,19.9],[20.2,20.0],[20.7,20.9],[21.2,21.0],[21.7,21.9],[22.2,22.0],[22.7,22.9],[23.2,23.0],[23.7,23.9],[24.2,24.0],[24.7,24.9],[25.2,25.0],[25.7,25.9],[26.2,26.0],[26.7,26.9],[27.2,27.0],[27.7,27.9],[28.2,28.0],[28.7,28.9],[29.2,29.0],[29.7,29.9],[30.2,30.0],[30.7,30.9],[31.2,31.0],[31.7,31.9],[32.2,32.0],[32.7,32.9],[3.3,2.9],[5.8,5.4],[7.8,7.2],[9.8,9.2],[11.8,11.0],[13.8,12.9],[17.8,17.0],[19.8,18.9],[25.8,24.8],[30.8,29.6],[9.3,9.8],[12.3,12.9],[15.3,16.0],[20.3,21.1],[26.3,27.2],[28.3,29.4]];

// Panel (b) bottom: Effective C2 vs fitted C2
const b2_06B = [[0.005,0.005]];
const b2_17B = [[0.01,0.012],[0.02,0.018]];
const b2_8B = [[0.04,0.025],[0.055,0.04],[0.06,0.045],[0.03,0.018]];
const b2_14B = [[0.01,0.005],[0.02,0.01],[0.03,0.02],[0.035,0.03],[0.045,0.04],[0.05,0.035],[0.025,0.022],[0.04,0.03]];
const b2_32B = [[0.005,0.005],[0.01,0.015],[0.015,0.01],[0.02,0.03],[0.025,0.02],[0.03,0.035],[0.035,0.025],[0.04,0.05],[0.045,0.035],[0.05,0.06],[0.055,0.045],[0.06,0.075],[0.065,0.055],[0.07,0.085],[0.075,0.06],[0.08,0.1],[0.085,0.07],[0.09,0.11],[0.095,0.08],[0.1,0.13],[0.105,0.09],[0.11,0.14],[0.115,0.1],[0.12,0.16],[0.125,0.11],[0.13,0.17],[0.135,0.12],[0.14,0.19],[0.145,0.13],[0.15,0.2],[0.06,0.1],[0.08,0.13],[0.1,0.16],[0.12,0.19],[0.14,0.22],[0.07,0.05],[0.09,0.07],[0.11,0.09],[0.13,0.1],[0.05,0.08],[0.04,0.02],[0.1,0.11],[0.12,0.12],[0.08,0.08],[0.06,0.06],[0.14,0.14],[0.16,0.26],[0.11,0.2],[0.13,0.24],[0.09,0.15],
[0.155,0.15],[0.16,0.21],[0.165,0.14],[0.17,0.24],[0.175,0.17],[0.18,0.28],[0.185,0.19],[0.19,0.26],[0.195,0.16],[0.2,0.3],[0.205,0.21],[0.21,0.33],[0.215,0.19],[0.22,0.27],[0.225,0.36],[0.23,0.22],[0.235,0.3],[0.24,0.34],[0.245,0.21],[0.25,0.31],[0.255,0.27],[0.26,0.37],[0.265,0.24],[0.27,0.35],[0.275,0.3],[0.28,0.4],[0.285,0.26],[0.29,0.33],[0.295,0.38],[0.3,0.29],[0.18,0.14],[0.2,0.17],[0.22,0.2],[0.24,0.25],[0.26,0.23],[0.28,0.25],[0.17,0.3],[0.19,0.33],[0.23,0.29],[0.25,0.39],
[0.31,0.42],[0.32,0.31],[0.33,0.45],[0.34,0.36],[0.35,0.48],[0.36,0.33],[0.37,0.44],[0.38,0.5],[0.39,0.37],[0.4,0.47],[0.41,0.42],[0.42,0.55],[0.423,0.736],[0.43,0.4],[0.44,0.52],[0.45,0.45],[0.46,0.58],[0.47,0.43],[0.48,0.6],[0.49,0.5],[0.5,0.63],[0.51,0.55],[0.516,0.418],[0.53,0.41],[0.54,0.6],[0.55,0.66],[0.56,0.52],[0.57,0.64],[0.586,0.656],[0.596,0.995],[0.6,0.58],[0.61,0.66],[0.62,0.62],[0.637,0.454],[0.642,0.768],[0.65,0.66],[0.66,0.68],[0.68,0.65],[0.703,0.754],[0.736,0.706],[0.33,0.3],[0.35,0.39],[0.38,0.36],[0.41,0.52],[0.45,0.6],[0.36,0.52],
[0.012,0.02],[0.018,0.012],[0.022,0.025],[0.028,0.03],[0.032,0.028],[0.038,0.045],[0.042,0.04],[0.048,0.052],[0.052,0.05],[0.058,0.065],[0.062,0.06],[0.068,0.072],[0.072,0.07],[0.078,0.09],[0.082,0.085],[0.088,0.095],[0.092,0.1],[0.098,0.12],[0.102,0.105],[0.108,0.125],[0.112,0.12],[0.118,0.14],[0.122,0.13],[0.128,0.15],[0.132,0.14],[0.138,0.16],[0.142,0.15],[0.148,0.18],[0.152,0.17],[0.158,0.19],[0.162,0.18],[0.168,0.2],[0.172,0.19],[0.178,0.22],[0.182,0.21],[0.188,0.23],[0.192,0.22],[0.198,0.24],[0.202,0.23],[0.208,0.26],[0.212,0.25],[0.218,0.29],[0.228,0.26],[0.238,0.28],[0.248,0.29],[0.258,0.31],[0.268,0.29],[0.278,0.33],[0.288,0.31],[0.298,0.34],[0.085,0.12],[0.105,0.15],[0.125,0.17],[0.145,0.2],[0.165,0.23],[0.185,0.26],[0.205,0.28],[0.225,0.31],[0.245,0.33],[0.1,0.07],[0.15,0.12],[0.2,0.2],[0.3,0.36],[0.32,0.4],[0.34,0.42],[0.37,0.4],[0.4,0.44],[0.43,0.5],[0.46,0.5],[0.5,0.56],[0.55,0.58],[0.6,0.63],[0.65,0.71],[0.7,0.72],[0.69,0.66],[0.57,0.69],[0.47,0.55],[0.39,0.48],[0.31,0.36],[0.27,0.32]];

const identityB1 = [[0,0],[33.4,33.4]];
const identityB2 = [[0,0],[0.735,0.735]];

const panelA = [a06B.concat(a06Bmore), a17B.concat(a17Bmore), a8B.concat(a8Bmore), a14B.concat(a14Bmore), a32B.concat(a32Bmore)];
const panelB1 = [b1_06B,b1_17B,b1_8B,b1_14B,b1_32B];
const panelB2 = [b2_06B,b2_17B,b2_8B,b2_14B,b2_32B];

const SERIF = 'DejaVu Serif';
const SANS = 'DejaVu Sans';
const TXT = '#222';
const subRich = {
  i: {fontFamily: SANS, fontStyle: 'italic', fontSize: 11, color: TXT},
  s: {fontFamily: SANS, fontSize: 8, color: TXT, verticalAlign: 'bottom', padding: [5,0,0,0]}
};
function axisCommon(min, max, ticks, fmt, gridIndex) {
  return {
    type: 'value', gridIndex, min, max,
    axisLine: {show: false},
    axisTick: {show: true, length: 3.5, customValues: ticks, lineStyle: {color: '#333', width: 0.8}},
    axisLabel: {customValues: ticks, formatter: fmt, fontFamily: SERIF, fontSize: 10, color: TXT, margin: 6},
    splitLine: {show: true, lineStyle: {color: '#d0d0d0', type: [3,2], width: 0.8}},
    nameTextStyle: {fontFamily: SANS, fontSize: 11, color: TXT, rich: subRich}
  };
}
const gridStyle = {show: true, borderColor: '#333', borderWidth: 1, containLabel: false};
const PT = 3.5;
const series = [];
models.forEach((m, k) => {
  series.push({type: 'scatter', name: m, xAxisIndex: 0, yAxisIndex: 0, data: panelA[k], symbolSize: PT,
    itemStyle: {color: modelColors[k], opacity: 0.7}, silent: true});
});
series.push({type: 'line', name: 'curve', xAxisIndex: 0, yAxisIndex: 0, data: curveX.map((x, i) => [x, curveY[i]]),
  showSymbol: false, symbol: 'none', smooth: 0.3, lineStyle: {color: '#000', width: 1.5}, itemStyle: {color: '#000'}, z: 5});
models.forEach((m, k) => {
  series.push({type: 'scatter', name: m, xAxisIndex: 1, yAxisIndex: 1, data: panelB1[k], symbolSize: PT,
    itemStyle: {color: modelColors[k], opacity: 0.7}, silent: true});
});
series.push({type: 'line', name: 'y = x', xAxisIndex: 1, yAxisIndex: 1, data: identityB1, showSymbol: false, symbol: 'none',
  lineStyle: {color: '#808080', width: 1}, itemStyle: {color: '#808080'}, z: 5});
models.forEach((m, k) => {
  series.push({type: 'scatter', name: m, xAxisIndex: 2, yAxisIndex: 2, data: panelB2[k], symbolSize: PT,
    itemStyle: {color: modelColors[k], opacity: 0.7}, silent: true});
});
series.push({type: 'line', name: 'y = x', xAxisIndex: 2, yAxisIndex: 2, data: identityB2, showSymbol: false, symbol: 'none',
  lineStyle: {color: '#808080', width: 1}, itemStyle: {color: '#808080'}, z: 5});

const chart = echarts.init(document.getElementById('c'), null, {renderer: 'canvas'});
const legendRich = {
  i: {fontFamily: SANS, fontStyle: 'italic', fontSize: 9.5, color: TXT},
  sup: {fontFamily: SANS, fontSize: 6.5, color: TXT, verticalAlign: 'top', padding: [0,0,4,0]}
};
const boxLegend = {backgroundColor: 'rgba(255,255,255,0.85)', borderColor: '#cccccc', borderWidth: 1, borderRadius: 3, selectedMode: false};
chart.setOption({
  animation: false,
  backgroundColor: '#fff',
  title: [
    {text: '(a) The speculation-aware cost model\nfor p99 latency', left: 230, top: 6, textAlign: 'center', padding: 0,
     textStyle: {fontFamily: SERIF, fontSize: 13.5, fontWeight: 'normal', color: '#111', lineHeight: 17}},
    {text: '(b) Effective costs match\nfitted parameters', left: 540, top: 6, textAlign: 'center', padding: 0,
     textStyle: {fontFamily: SERIF, fontSize: 13.5, fontWeight: 'normal', color: '#111', lineHeight: 17}}
  ],
  grid: [
    Object.assign({left: 49, top: 42, width: 362, height: 289}, gridStyle),
    Object.assign({left: 463, top: 42, width: 155, height: 122}, gridStyle),
    Object.assign({left: 463, top: 209, width: 155, height: 123}, gridStyle)
  ],
  xAxis: [
    Object.assign(axisCommon(-0.048, 1.033, xTicksA, v => v.toFixed(1), 0),
      {name: '{i|RPS} × Effective {i|C}{s|2}', nameLocation: 'middle', nameGap: 19}),
    Object.assign(axisCommon(-1.67, 35.07, ticksB1, v => String(v), 1),
      {name: 'Effective {i|C}{s|1}', nameLocation: 'middle', nameGap: 19}),
    Object.assign(axisCommon(-0.037, 0.772, ticksB2x, v => v.toFixed(2), 2),
      {name: 'Effective {i|C}{s|2}', nameLocation: 'middle', nameGap: 19})
  ],
  yAxis: [
    Object.assign(axisCommon(-0.35, 25, yTicksA, v => String(v), 0),
      {name: '{i|L} ÷ Effective {i|C}{s|1}', nameLocation: 'middle', nameGap: 21, nameMoveOverlap: false}),
    Object.assign(axisCommon(-1.67, 35.07, ticksB1, v => String(v), 1),
      {name: '{i|C}{s|1}', nameLocation: 'middle', nameGap: 24}),
    Object.assign(axisCommon(-0.049, 1.034, ticksB2y, v => v.toFixed(2), 2),
      {name: '{i|C}{s|2}', nameLocation: 'middle', nameGap: 31})
  ],
  legend: [
    Object.assign({left: 53, top: 45, orient: 'vertical', padding: [5,4,4,3], itemWidth: 20, itemHeight: 4, itemGap: 3,
     data: models.map((m, k) => ({name: m, icon: 'circle', itemStyle: {color: modelColors[k], opacity: 0.7}}))
       .concat([{name: 'curve', icon: 'path://M0,0H20V1.5H0Z', itemStyle: {color: '#000'}}]),
     formatter: name => {
       const k = models.indexOf(name);
       if (k < 0) return '{i|y} = ';
       return name + ', {i|R}{sup|2} = ' + r2Values[k];
     },
     textStyle: {fontFamily: SANS, fontSize: 9.5, color: TXT, lineHeight: 12, rich: legendRich}}, boxLegend),
    Object.assign({left: 467, top: 46, orient: 'vertical', padding: [3,3,3,4], itemWidth: 17, itemHeight: 4,
     data: [{name: 'y = x', icon: 'path://M0,0H17V1.1H0Z', itemStyle: {color: '#808080'}}],
     textStyle: {fontFamily: SERIF, fontSize: 9.5, color: TXT}}, boxLegend),
    Object.assign({left: 467, top: 213, orient: 'vertical', padding: [3,3,3,4], itemWidth: 17, itemHeight: 4,
     data: [{name: 'y = x', icon: 'path://M0,0H17V1.1H0Z', itemStyle: {color: '#808080'}}],
     textStyle: {fontFamily: SERIF, fontSize: 9.5, color: TXT}}, boxLegend)
  ],
  graphic: [
    {type: 'text', x: 106, y: 123.5, z: 100, style: {text: '1', font: '6.5px "DejaVu Sans"', fill: TXT, align: 'center'}},
    {type: 'line', z: 100, shape: {x1: 98, y1: 131, x2: 114, y2: 131}, style: {stroke: TXT, lineWidth: 0.6}},
    {type: 'text', x: 106, y: 131.8, z: 100, style: {text: '1 − x', font: 'italic 6.5px "DejaVu Sans"', fill: TXT, align: 'center'}}
  ],
  series
});
</script>
</body></html>
